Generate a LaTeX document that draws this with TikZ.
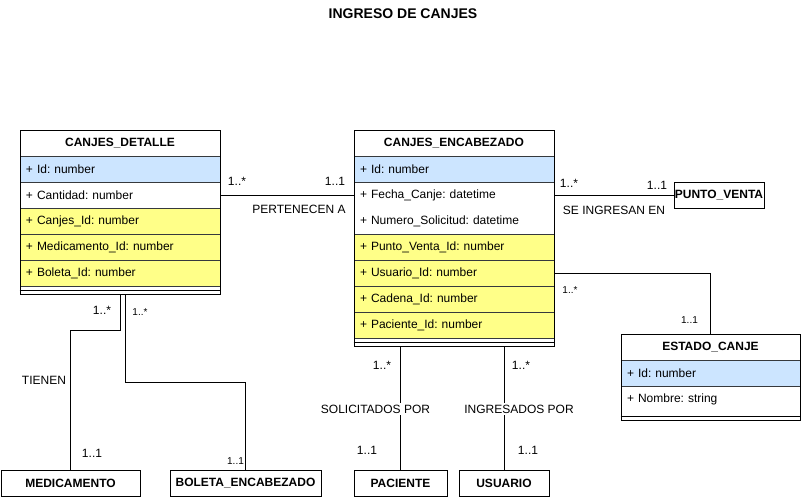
\documentclass[tikz,border=0pt]{standalone}
\usepackage{fontspec}
\setmainfont{Liberation Sans}
\frenchspacing
\definecolor{rowblue}{HTML}{CCE5FF}
\definecolor{rowyellow}{HTML}{FFFF88}
\definecolor{rowline}{HTML}{36393D}
\begin{document}
\frenchspacing
\begin{tikzpicture}[x=0.75pt,y=-0.75pt,line width=0.75pt,
  every node/.style={inner sep=0pt,font=\fontsize{9pt}{11pt}\selectfont\frenchspacing},
  hd/.style={minimum width=#1,minimum height=19.5pt,font=\bfseries\fontsize{9pt}{11pt}\selectfont},
  row/.style={minimum height=19.5pt,text width=#1,inner xsep=4.5pt,align=left,font=\fontsize{9pt}{11pt}\selectfont\frenchspacing},
  row/.default=141pt,
  bluerow/.style={row=#1,fill=rowblue,draw=rowline},
  bluerow/.default=141pt,
  yelrow/.style={row=#1,fill=rowyellow,draw=rowline},
  yelrow/.default=141pt,
  frame/.style={draw=black},
  entity/.style={draw=black,minimum height=19.5pt,minimum width=#1,font=\bfseries\fontsize{9pt}{11pt}\selectfont},
  lbl/.style={font=\fontsize{9pt}{11pt}\selectfont},
  smalllbl/.style={font=\fontsize{7.5pt}{9pt}\selectfont},
  midlbl/.style={lbl,fill=white,inner sep=1pt}]
\useasboundingbox (0,0) rectangle (801,497);

\node[font=\bfseries\fontsize{10.5pt}{12pt}\selectfont] (title) at (403,14) {INGRESO DE CANJES};

% CANJES_DETALLE
\node[hd=150pt] (cdh) at (120,143) {CANJES\_DETALLE};
\node[bluerow] (cd1) at (120,169.5) {+ Id: number};
\node[row] (cd2) at (120,195.5) {+ Cantidad: number};
\node[yelrow] (cd3) at (120,221.5) {+ Canjes\_Id: number};
\node[yelrow] (cd4) at (120,247.5) {+ Medicamento\_Id: number};
\node[yelrow] (cd5) at (120,273.5) {+ Boleta\_Id: number};
\node[frame,minimum width=150pt,minimum height=123pt] (cd) at (120,212) {};
\draw ([yshift=3pt]cd.south west) -- ([yshift=3pt]cd.south east);

% CANJES_ENCABEZADO
\node[hd=150pt] (ceh) at (454,143) {CANJES\_ENCABEZADO};
\node[bluerow] (ce1) at (454,169.5) {+ Id: number};
\node[row] (ce2) at (454,195.5) {+ Fecha\_Canje: datetime};
\node[row] (ce3) at (454,221.5) {+ Numero\_Solicitud: datetime};
\node[yelrow] (ce4) at (454,247.5) {+ Punto\_Venta\_Id: number};
\node[yelrow] (ce5) at (454,273.5) {+ Usuario\_Id: number};
\node[yelrow] (ce6) at (454,299.5) {+ Cadena\_Id: number};
\node[yelrow] (ce7) at (454,325.5) {+ Paciente\_Id: number};
\node[frame,minimum width=150pt,minimum height=162pt] (ce) at (454,238) {};
\draw ([yshift=3pt]ce.south west) -- ([yshift=3pt]ce.south east);

% ESTADO_CANJE
\node[hd=134.25pt] (ech) at (710.5,347) {ESTADO\_CANJE};
\node[bluerow=125.25pt] (ec1) at (710.5,373.5) {+ Id: number};
\node[row=125.25pt] (ec2) at (710.5,399.5) {+ Nombre: string};
\node[frame,minimum width=134.25pt,minimum height=64.5pt] (ec) at (710.5,377) {};
\draw ([yshift=3pt]ec.south west) -- ([yshift=3pt]ec.south east);

% simple entities
\node[entity=67.5pt] (pv) at (719,195) {PUNTO\_VENTA};
\node[entity=104.25pt] (med) at (70.5,483) {MEDICAMENTO};
\node[entity=113.25pt] (bol) at (245.5,483) {BOLETA\_ENCABEZADO};
\node[entity=69.75pt] (pac) at (400.5,483) {PACIENTE};
\node[entity=67.5pt] (usu) at (504,483) {USUARIO};

% connectors
\draw (cd.east |- pv.west) -- (ce.west |- pv.west);
\draw (ce.east |- pv.west) -- (pv.west);
\draw (ce.east |- ce5.east) -| (ech.north);
\draw (cd.south) -- ++(0,36) -| (med.north);
\draw ([xshift=3.75pt]cd.south) -- ++(0,88) -| (bol.north);
\draw (pac.north) -- (pac.north |- ce.south);
\draw (usu.north) -- (usu.north |- ce.south);

% labels
\node[lbl] (l1) at (237,181) {1..*};
\node[lbl] (l2) at (335,181) {1..1};
\node[lbl] (l3) at (299,209) {PERTENECEN A};
\node[lbl] (l4) at (569,183) {1..*};
\node[lbl] (l5) at (657,185) {1..1};
\node[lbl] (l6) at (614,210) {SE INGRESAN EN};
\node[smalllbl] (l7) at (570,290) {1..*};
\node[smalllbl] (l8) at (689.5,320) {1..1};
\node[lbl] (l9) at (102,310) {1..*};
\node[smalllbl] (l10) at (140,312) {1..*};
\node[lbl] (l11) at (44,380) {TIENEN};
\node[lbl] (l12) at (92,453) {1..1};
\node[smalllbl] (l13) at (235.5,461.5) {1..1};
\node[lbl] (l14) at (382,365) {1..*};
\node[midlbl] (l15) at (375.5,409) {SOLICITADOS POR};
\node[lbl] (l16) at (367,450) {1..1};
\node[lbl] (l17) at (521,365) {1..*};
\node[midlbl] (l18) at (519,409) {INGRESADOS POR};
\node[lbl] (l19) at (528,450) {1..1};
\end{tikzpicture}
\end{document}
